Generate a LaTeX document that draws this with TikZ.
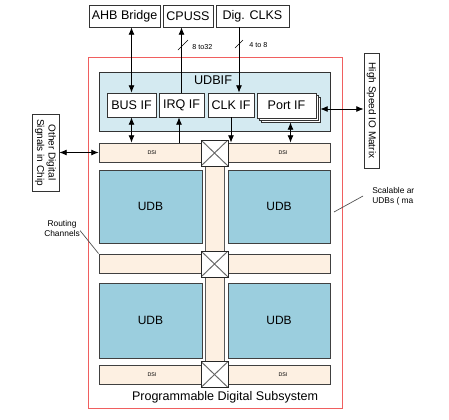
\documentclass[tikz,border=0pt]{standalone}
\usepackage{fontspec}
\setmainfont{Liberation Sans}
\usetikzlibrary{arrows.meta,shadows}
\newcommand{\pxu}{0.75pt}
\definecolor{ifblue}{RGB}{212,234,241}
\definecolor{udbblue}{RGB}{155,206,222}
\definecolor{dsibeige}{RGB}{253,240,226}
\definecolor{edgered}{RGB}{240,95,95}
\begin{document}
\begin{tikzpicture}[
        x=\pxu, y=-\pxu,
        % stili generali
        box/.style={draw=black!80, line width=0.6pt, fill=white, inner sep=0pt, font=\fontsize{9.4}{11}\selectfont},
        sidebox/.style={draw=black!80, line width=0.6pt, fill=white, inner sep=0pt, rotate=-90, align=center, font=\fontsize{7.5}{8.6}\selectfont},
        udb/.style={draw=black!75, line width=0.7pt, fill=udbblue, minimum width=102*\pxu, font=\fontsize{9}{11}\selectfont},
        dsi/.style={draw=black!75, line width=0.6pt, fill=dsibeige, minimum width=231*\pxu, minimum height=19*\pxu},
        xbar/.style={draw=black!85, line width=0.7pt, fill=white, minimum width=27*\pxu, minimum height=26*\pxu,
            path picture={\draw[black!60] (path picture bounding box.north west) -- (path picture bounding box.south east)
                (path picture bounding box.north east) -- (path picture bounding box.south west);}},
        tiny/.style={font=\fontsize{4}{5}\selectfont, inner sep=0pt},
        note/.style={font=\fontsize{6.3}{7.4}\selectfont, inner sep=0pt},
        arr/.style={-{Latex[length=5.5pt,width=4.5pt]}, line width=0.6pt},
        darr/.style={{Latex[length=5.5pt,width=4.5pt]}-{Latex[length=5.5pt,width=4.5pt]}, line width=0.6pt}
    ]
    \useasboundingbox (0,0) rectangle (449,419);

    % 1. Blocchi esterni in alto
    \node[box, minimum width=71*\pxu, minimum height=22*\pxu] (ahb) at (124.5,16) {AHB Bridge};
    \node[box, minimum width=50*\pxu, minimum height=22*\pxu] (cpuss) at (188,16) {CPUSS};
    \node[box, minimum width=73*\pxu, minimum height=22*\pxu] (clks) at (252.5,16) {Dig. CLKS};

    % 2. Sottosistema (bordo rosso) e UDBIF
    \node[draw=edgered, line width=0.6pt, minimum width=254*\pxu, minimum height=351*\pxu] (pds) at (215,232.5) {};
    \node[draw=black!80, line width=0.6pt, fill=ifblue, minimum width=231*\pxu, minimum height=59*\pxu] (udbif) at (214.5,101.5) {};
    \node[font=\fontsize{9.5}{11}\selectfont] (udbiflbl) at (213,80) {UDBIF};
    \node[box, minimum width=49*\pxu, minimum height=24*\pxu] (busif) at (131.5,105) {BUS IF};
    \node[box, minimum width=45*\pxu, minimum height=24*\pxu] (irqif) at (181.5,105) {IRQ IF};
    \node[box, minimum width=46*\pxu, minimum height=24*\pxu] (clkif) at (231,105) {CLK IF};
    \node[box, minimum width=59*\pxu, minimum height=25*\pxu,
        copy shadow={shadow xshift=4*\pxu, shadow yshift=-4*\pxu},
        copy shadow={shadow xshift=2*\pxu, shadow yshift=-2*\pxu}] (portif) at (286.5,105.5) {Port IF};

    % 3. Canali di routing (verticale + DSI)
    \node[draw=black!65, line width=1.2pt, fill=dsibeige, minimum width=19*\pxu, minimum height=222*\pxu] (vchan) at (215,264) {};
    \node[dsi] (dsitop) at (214.5,152.5) {};
    \node[dsi] (dsimid) at (214.5,263.5) {};
    \node[dsi] (dsibot) at (214.5,375) {};
    \node[tiny] (dsi1) at (152,152.5) {DSI};
    \node[tiny] (dsi2) at (283,152.5) {DSI};
    \node[tiny] (dsi3) at (152,375) {DSI};
    \node[tiny] (dsi4) at (283,375) {DSI};

    % 4. UDB
    \node[udb, minimum width=103*\pxu, minimum height=73*\pxu] (udb1) at (150.5,206.5) {UDB};
    \node[udb, minimum height=73*\pxu] (udb2) at (279,206.5) {UDB};
    \node[udb, minimum width=103*\pxu, minimum height=75*\pxu] (udb3) at (150.5,320.5) {UDB};
    \node[udb, minimum height=75*\pxu] (udb4) at (279,320.5) {UDB};

    % 5. Incroci
    \node[xbar] (sw1) at (214.5,153) {};
    \node[xbar] (sw2) at (214.5,264) {};
    \node[xbar] (sw3) at (214.5,374.5) {};

    \node[font=\fontsize{9.4}{11}\selectfont] (pdslbl) at (225,397) {Programmable Digital Subsystem};

    % 6. Blocchi laterali
    \node[sidebox, minimum width=77*\pxu, minimum height=27*\pxu] (other) at (45.5,152.5) {Other Digital\\Signals in Chip};
    \node[sidebox, minimum width=115*\pxu, minimum height=15*\pxu] (hsio) at (371.5,110.5) {High Speed IO Matrix};

    % 7. Frecce
    \draw[darr] (busif.north) -- (busif.north |- ahb.south);
    \draw[arr] (irqif.north) -- (irqif.north |- cpuss.south);
    \coordinate (clkin) at ([xshift=8*\pxu]clkif.north);
    \draw[arr] (clkin |- clks.south) -- (clkin);
    \draw[darr] (busif.south) -- (busif.south |- dsitop.north);
    \coordinate (irqin) at ([xshift=-2.5*\pxu]irqif.south);
    \draw[arr] (irqin |- dsitop.north) -- (irqin);
    \draw[arr] (clkif.south) -- (clkif.south |- dsitop.north);
    \coordinate (portdn) at ([xshift=4*\pxu, yshift=-4*\pxu]portif.south);
    \draw[darr] (portdn) -- (portdn |- dsitop.north);
    \coordinate (portout) at ([xshift=4*\pxu, yshift=-3.5*\pxu]portif.east);
    \draw[darr] (portout) -- (portout -| hsio.south);
    \draw[darr] (other.north) -- (dsitop.west);

    % 8. Larghezze bus
    \coordinate (bw1) at (183,45);
    \coordinate (bw2) at (239,44);
    \draw[line width=0.5pt] ([shift={(-5,5)}]bw1) -- ([shift={(5,-5)}]bw1);
    \draw[line width=0.5pt] ([shift={(-4,4)}]bw2) -- ([shift={(4,-4)}]bw2);
    \node[note, font=\fontsize{5.4}{6}\selectfont, anchor=west] (bw1lbl) at (192,47) {8 to32};
    \node[note, font=\fontsize{5.4}{6}\selectfont, anchor=west] (bw2lbl) at (249,45) {4 to 8};

    % 9. Note
    \node[note, align=center] (rout) at (62,228.5) {Routing\\Channels};
    \draw[black!70, line width=0.5pt] ([yshift=-2*\pxu]rout.east) -- (dsimid.north west);
    \node[note, align=left, anchor=west] (scal) at (372,196) {Scalable ar\\UDBs ( ma};
    \coordinate (scalend) at (334,212);
    \draw[black!70, line width=0.5pt] ([xshift=-9*\pxu]scal.west) -- (scalend);

\end{tikzpicture}
\end{document}
